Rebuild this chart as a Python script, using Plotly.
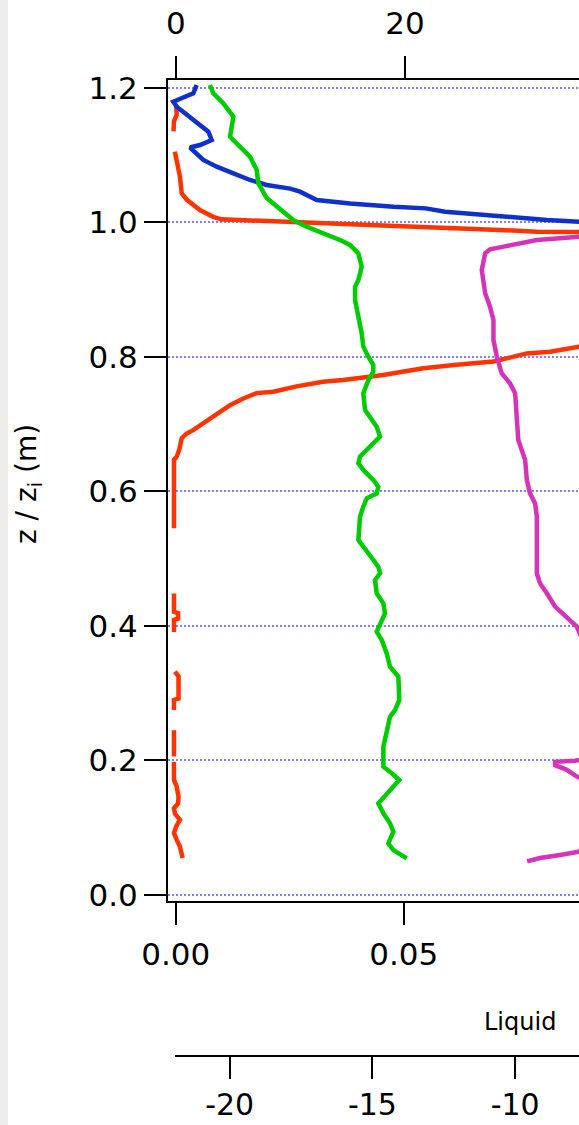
import plotly.graph_objects as go

N = None

# ---------------- data ----------------
# Red: liquid water profile (bottom axis)
z_red = [0.055, 0.065, 0.072, 0.082, 0.092, 0.102, 0.112, 0.121, 0.129, 0.136,
         0.146, 0.161, 0.171, 0.198, N, 0.206, 0.245, N, 0.275, 0.29, 0.292, 0.325,
         0.332, N, 0.391, 0.409, 0.411, 0.419, 0.421, 0.448, N, 0.545, 0.647,
         0.6515, 0.663, 0.679, 0.686, 0.691, 0.701, 0.716, 0.728, 0.738, 0.746,
         0.748, 0.756, 0.763, 0.7655, 0.773, 0.778, 0.783, 0.788, 0.793, 0.805,
         0.8076, 0.815, 0.85, 0.90, 0.95, 0.975, 0.981, 0.9845, 0.986, 0.9885,
         0.991, 0.9934, 0.9955, 0.9974, 0.999, 1.0008, 1.002, 1.0043, 1.008,
         1.018, 1.033, 1.043, 1.068, 1.0925, 1.105, N, 1.135, 1.15, 1.16, 1.174]
lwc_red = [0.0015, 0.0012, 0.0009, 0.0002, -0.0004, 0.0001, 0.0009, -0.0002, -0.0004, 0.0005,
           0.0006, 0.0002, -0.0004, -0.0004, N, -0.0004, -0.0004, N, -0.0004, -0.0004, 0.0006, 0.0006,
           -0.0002, N, -0.0004, -0.0004, 0.0005, 0.0005, -0.0004, -0.0004, N, -0.0004, -0.0004,
           0.0002, 0.0008, 0.0013, 0.0024, 0.0038, 0.0060, 0.0089, 0.0119, 0.0148, 0.0177,
           0.0214, 0.0265, 0.0323, 0.0367, 0.0455, 0.0507, 0.0543, 0.0616, 0.0697, 0.0770,
           0.0821, 0.0885, 0.125, 0.175, 0.215, 0.230, 0.150, 0.0880, 0.0792, 0.0710,
           0.0617, 0.0540, 0.0455, 0.0380, 0.0316, 0.0240, 0.0178, 0.0100, 0.0082,
           0.0053, 0.0025, 0.0013, 0.0009, 0.0002, -0.0002, N, -0.0005, -0.0004, 0.0002, 0.0001]

# Blue profile (top axis)
z_blue = [0.05, 0.3, 0.6, 0.9, 0.98, 0.995, 1.0008, 1.0033, 1.0058, 1.0073, 1.0107,
          1.0142, 1.0157, 1.0206, 1.023, 1.028, 1.033, 1.0454, 1.050, 1.0554, 1.0628,
          1.0727, 1.0826, 1.0925, 1.105, 1.111, 1.1148, 1.1223, 1.1346, 1.1446, 1.159,
          1.1718, 1.179, 1.1866, 1.1917, 1.204]
v_blue = [48, 50, 52, 50, 42, 37, 35.2, 32.4, 30.5, 29.75, 27.1,
          24.5, 23.5, 21.8, 19.0, 15.2, 12.3, 10.84, 9.97, 7.93, 6.47,
          5.02, 3.57, 2.40, 1.68, 1.24, 2.11, 3.13, 2.84, 2.11, 0.95,
          0.08, -0.22, 0.80, 1.53, 1.82]

# Green profile (top axis)
z_green = [0.0545, 0.0669, 0.0768, 0.0941, 0.1066, 0.1214, 0.1363, 0.1536, 0.1709, 0.1809,
           0.1908, 0.2205, 0.2453, 0.265, 0.275, 0.2899, 0.3245, 0.3394, 0.3592, 0.379,
           0.3914, 0.4038, 0.4187, 0.4336, 0.4484, 0.4682, 0.4782, 0.488, 0.5029, 0.5177,
           0.5277, 0.5623, 0.5772, 0.5896, 0.597, 0.607, 0.617, 0.6318, 0.6417, 0.6515,
           0.6664, 0.6813, 0.696, 0.711, 0.721, 0.7457, 0.7655, 0.7779, 0.7878, 0.800,
           0.815, 0.835, 0.8596, 0.8844, 0.9042, 0.9142, 0.934, 0.9538, 0.9662, 0.9736,
           0.9835, 0.9934, 1.0033, 1.018, 1.036, 1.058, 1.0777, 1.0975, 1.117, 1.127,
           1.157, 1.1768, 1.1917, 1.204]
v_green = [20.15, 18.98, 18.54, 18.98, 18.69, 18.11, 17.67, 18.54, 19.50, 18.84,
           18.11, 18.11, 18.40, 18.69, 19.13, 19.50, 19.42, 18.69, 18.40, 17.97,
           17.53, 17.82, 18.25, 18.11, 17.53, 17.38, 17.82, 17.67, 16.95, 16.36,
           15.93, 16.07, 16.36, 16.66, 17.53, 17.67, 17.23, 16.36, 15.93, 16.07,
           16.95, 17.82, 17.53, 16.95, 16.51, 16.36, 16.80, 17.23, 17.23, 16.80,
           16.36, 16.22, 15.93, 15.64, 15.64, 15.93, 16.22, 15.93, 15.20, 14.33,
           12.87, 11.42, 10.25, 9.20, 7.93, 7.20, 7.06, 6.47, 5.31, 4.73,
           5.02, 4.14, 3.27, 2.98]

# Magenta profile (third axis)
z_pink = [0.050, 0.055, 0.0595, 0.0644, 0.08, 0.12, 0.16, 0.172, 0.176, 0.186,
          0.193, 0.198, 0.1995, 0.205, 0.25, 0.30, 0.35, 0.375, 0.3989, 0.4138,
          0.4286, 0.4484, 0.4633, 0.4782, 0.5623, 0.582, 0.597, 0.617, 0.6466, 0.6763,
          0.7457, 0.7605, 0.7754, 0.800, 0.825, 0.8547, 0.8745, 0.8944, 0.9142, 0.929,
          0.9538, 0.9598, 0.9637, 0.9687, 0.9736, 0.9761, 0.9786, 0.985, 1.0, 1.05,
          1.1, 1.2]
t_pink = [-9.58, -9.13, -8.43, -7.76, -7.4, -7.3, -7.4, -7.6, -7.84, -8.19,
          -8.60, -8.60, -7.90, -7.3, -7.1, -7.2, -7.4, -7.6, -7.84, -8.25,
          -8.60, -8.89, -9.13, -9.24, -9.24, -9.30, -9.48, -9.59, -9.65, -9.89,
          -10.0, -10.18, -10.47, -10.64, -10.76, -10.76, -10.88, -11.05, -11.11, -11.17,
          -11.05, -10.88, -10.41, -9.83, -9.24, -8.43, -7.76, -6.0, -4.0, -3.5,
          -3.2, -3.0]

y_ticks = [0.0, 0.2, 0.4, 0.6, 0.8, 1.0, 1.2]
y_ticktext = ["0.0", "0.2", "0.4", "0.6", "0.8", "1.0", "1.2"]
x_ticks = [0.0, 0.05]
x_ticktext = ["0.00", "0.05"]
x2_ticks = [0, 20]
x2_ticktext = ["0", "20"]
x3_ticks = [-20, -15, -10]
x3_ticktext = ["-20", "-15", "-10"]

# ---------------- figure ----------------
W, H = 579, 1125
ML, MT, MB = 168, 80, 69
PW, PH = W - ML, H - MT - MB
FONT = "DejaVu Sans, Verdana, sans-serif"

def px_x(p):
    return (p - ML) / PW

def px_y(p):
    return (H - MB - p) / PH

fig = go.Figure()
line_w = 4.5
fig.add_trace(go.Scatter(x=v_blue, y=z_blue, xaxis="x2", yaxis="y", mode="lines",
                         line=dict(color="#1030cc", width=line_w), hoverinfo="skip"))
fig.add_trace(go.Scatter(x=v_green, y=z_green, xaxis="x2", yaxis="y", mode="lines",
                         line=dict(color="#00cc00", width=line_w), hoverinfo="skip"))
fig.add_trace(go.Scatter(x=t_pink, y=z_pink, xaxis="x3", yaxis="y", mode="lines",
                         line=dict(color="#d633b9", width=line_w), hoverinfo="skip"))
fig.add_trace(go.Scatter(x=lwc_red, y=z_red, xaxis="x", yaxis="y", mode="lines",
                         connectgaps=False,
                         line=dict(color="#ff3300", width=line_w), hoverinfo="skip"))

axis_common = dict(showline=True, linecolor="black", linewidth=2, ticks="outside",
                   ticklen=22, tickwidth=2, tickcolor="black", showgrid=False,
                   zeroline=False, automargin=False,
                   tickfont=dict(family=FONT, size=31, color="black"))

fig.update_layout(
    template="none",
    width=W, height=H,
    margin=dict(l=ML, r=0, t=MT, b=MB, pad=0, autoexpand=False),
    paper_bgcolor="white", plot_bgcolor="white",
    showlegend=False,
    font=dict(family=FONT, color="black"),
    xaxis=dict(axis_common, domain=[0, 1], anchor="y", side="bottom",
               range=[-0.00171, 0.08846], tickvals=x_ticks, ticktext=x_ticktext,
               ticklabelstandoff=3),
    xaxis2=dict(axis_common, overlaying="x", anchor="y", side="top",
                range=[-0.681, 35.18], tickvals=x2_ticks, ticktext=x2_ticktext,
                ticklabelstandoff=10),
    xaxis3=dict(axis_common, overlaying="x", anchor="free", position=0, side="bottom",
                showline=False, tickfont=dict(family=FONT, size=30, color="black"),
                range=[-22.162, -7.763], tickvals=x3_ticks, ticktext=x3_ticktext,
                ticklabelstandoff=0),
    yaxis=dict(axis_common, domain=[(H - MB - 901) / PH, 1], anchor="x",
               range=[-0.0089, 1.2114], tickvals=y_ticks, ticktext=y_ticktext,
               showgrid=True, gridcolor="#7f7fff", gridwidth=1.5, griddash="2px,2px",
               ticklabelstandoff=0),
    shapes=[
        dict(type="rect", xref="paper", yref="paper", x0=px_x(0), x1=px_x(8),
             y0=px_y(H), y1=px_y(0), fillcolor="#efedea", line=dict(width=0),
             layer="below"),
        dict(type="line", xref="paper", yref="paper", x0=px_x(175), x1=1.0,
             y0=0, y1=0, line=dict(color="black", width=2)),
    ],
    annotations=[
        dict(text="z / z<sub>i</sub> (m)", xref="paper", yref="paper",
             x=px_x(29), y=px_y(484), textangle=-90, showarrow=False,
             xanchor="center", yanchor="middle",
             font=dict(family=FONT, size=28, color="black")),
        dict(text="Liquid", xref="paper", yref="paper",
             x=px_x(482), y=px_y(1022), showarrow=False,
             xanchor="left", yanchor="middle",
             font=dict(family=FONT, size=24, color="black")),
    ],
)

fig.write_html("out.html")
